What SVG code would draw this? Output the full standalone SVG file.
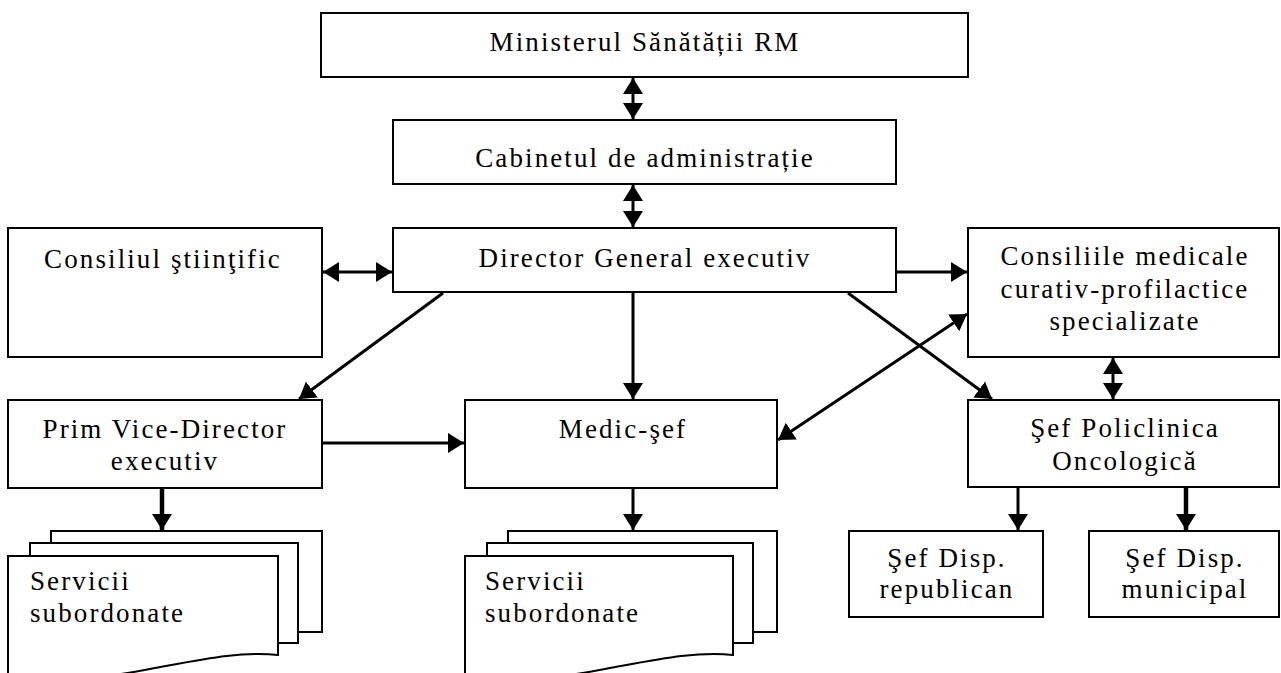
<svg xmlns="http://www.w3.org/2000/svg" width="1281" height="673" viewBox="0 0 1281 673">
<style>
.box{fill:#fff;stroke:#000;stroke-width:2}
.t{font-family:"Liberation Serif","Times New Roman",serif;font-size:27px;letter-spacing:2.1px;fill:#000;text-anchor:middle}
.tl{text-anchor:start}
.c{fill:none;stroke:#000;stroke-width:3}
.thick{stroke-width:4.5}
</style>
<defs>
<marker id="ah" markerUnits="userSpaceOnUse" markerWidth="17" markerHeight="21" viewBox="0 0 17 21" refX="16" refY="10.5" orient="auto-start-reverse">
<path d="M0,0.5 L16,10.5 L0,20.5 Z" fill="#000"/>
</marker>
</defs>
<rect width="1281" height="673" fill="#fff"/>

<g id="connectors">
<line class="c" x1="633" y1="78" x2="633" y2="119" marker-start="url(#ah)" marker-end="url(#ah)"/>
<line class="c" x1="633" y1="185" x2="633" y2="227" marker-start="url(#ah)" marker-end="url(#ah)"/>
<line class="c" x1="323" y1="272" x2="392" y2="272" marker-start="url(#ah)" marker-end="url(#ah)"/>
<line class="c" x1="897" y1="272" x2="967" y2="272" marker-end="url(#ah)"/>
<line class="c" x1="443" y1="293" x2="299" y2="399" marker-end="url(#ah)"/>
<line class="c" x1="633" y1="293" x2="633" y2="399" marker-end="url(#ah)"/>
<line class="c" x1="848" y1="293" x2="992" y2="399" marker-end="url(#ah)"/>
<line class="c" x1="778" y1="440" x2="967" y2="314" marker-start="url(#ah)" marker-end="url(#ah)"/>
<line class="c" x1="1113" y1="358" x2="1113" y2="399" marker-start="url(#ah)" marker-end="url(#ah)"/>
<line class="c" x1="323" y1="443" x2="464" y2="443" marker-end="url(#ah)"/>
<line class="c thick" x1="162" y1="489" x2="162" y2="530" marker-end="url(#ah)"/>
<line class="c" x1="633" y1="489" x2="633" y2="530" marker-end="url(#ah)"/>
<line class="c" x1="1018" y1="488" x2="1018" y2="530" marker-end="url(#ah)"/>
<line class="c thick" x1="1186" y1="488" x2="1186" y2="530" marker-end="url(#ah)"/>
</g>

<g id="ministerul">
<rect class="box" x="321" y="13" width="647" height="64"/>
<text class="t" x="645" y="51">Ministerul Sănătății RM</text>
</g>
<g id="cabinetul">
<rect class="box" x="393" y="120" width="503" height="64"/>
<text class="t" x="645" y="167">Cabinetul de administrație</text>
</g>
<g id="director">
<rect class="box" x="393" y="228" width="503" height="64"/>
<text class="t" x="645" y="267">Director General executiv</text>
</g>
<g id="consiliul-stiintific">
<rect class="box" x="8" y="228" width="314" height="129"/>
<text class="t" x="163" y="268">Consiliul ştiinţific</text>
</g>
<g id="consiliile-medicale">
<rect class="box" x="968" y="228" width="311" height="129"/>
<text class="t" x="1125" y="265">Consiliile medicale</text>
<text class="t" x="1125" y="298">curativ-profilactice</text>
<text class="t" x="1125" y="330">specializate</text>
</g>
<g id="prim-vice-director">
<rect class="box" x="8" y="400" width="314" height="88"/>
<text class="t" x="165" y="438">Prim Vice-Director</text>
<text class="t" x="165" y="470">executiv</text>
</g>
<g id="medic-sef">
<rect class="box" x="465" y="400" width="312" height="88"/>
<text class="t" x="623" y="438">Medic-şef</text>
</g>
<g id="sef-policlinica">
<rect class="box" x="968" y="400" width="311" height="87"/>
<text class="t" x="1125" y="437">Şef Policlinica</text>
<text class="t" x="1125" y="470">Oncologică</text>
</g>
<g id="sef-disp-republican">
<rect class="box" x="849" y="531" width="194" height="86"/>
<text class="t" x="947" y="567">Şef Disp.</text>
<text class="t" x="947" y="598">republican</text>
</g>
<g id="sef-disp-municipal">
<rect class="box" x="1089" y="531" width="190" height="86"/>
<text class="t" x="1185" y="567">Şef Disp.</text>
<text class="t" x="1185" y="598">municipal</text>
</g>

<g id="servicii-stanga">
<rect class="box" x="51" y="531" width="271" height="101"/>
<rect class="box" x="30" y="543" width="268" height="100"/>
<path class="box" d="M8,556 H278 V655 C240,651 200,660 150,669 C110,677 60,682 8,678 Z"/>
<text class="t tl" x="30" y="590">Servicii</text>
<text class="t tl" x="30" y="622">subordonate</text>
</g>
<g id="servicii-mijloc">
<rect class="box" x="508" y="531" width="269" height="101"/>
<rect class="box" x="487" y="543" width="266" height="100"/>
<path class="box" d="M465,556 H733 V655 C695,651 655,660 605,669 C565,677 515,682 465,678 Z"/>
<text class="t tl" x="485" y="590">Servicii</text>
<text class="t tl" x="485" y="622">subordonate</text>
</g>
</svg>
